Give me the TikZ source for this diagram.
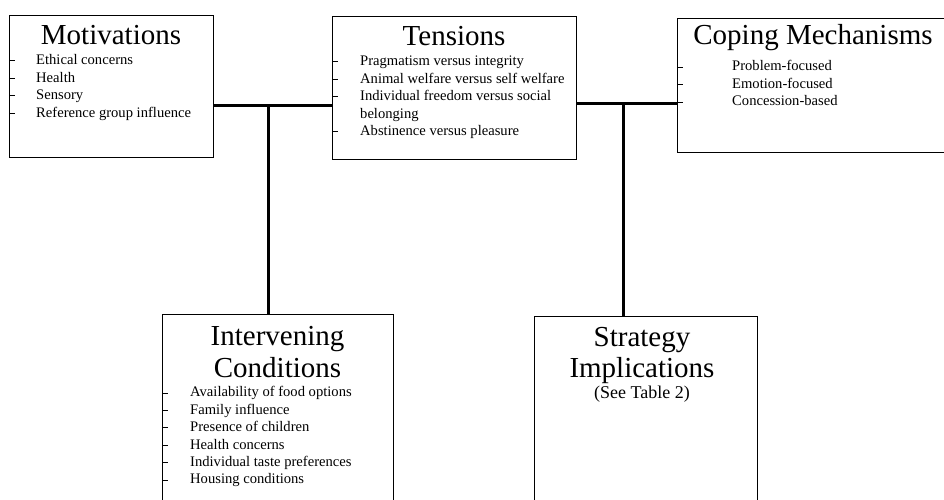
\documentclass[tikz,border=0pt]{standalone}
\usepackage{fontspec}
\setmainfont{Liberation Serif}
\tikzset{
  box/.style={draw,line width=1pt,rectangle,anchor=north west,inner sep=0pt},
  boxtitle/.style={inner sep=0pt,anchor=base,font=\fontsize{29}{34}\selectfont},
  subtitle/.style={inner sep=0pt,anchor=base,font=\fontsize{18}{21}\selectfont},
  item/.style={inner sep=0pt,anchor=base west,font=\fontsize{14.6}{17.4}\selectfont},
  conn/.style={line width=3pt},
  tick/.style={line width=0.8pt}
}
\begin{document}
\begin{tikzpicture}[x=1pt,y=-1pt]
	\useasboundingbox (0,0) rectangle (944,499);
	\clip (0,0) rectangle (944,499);
	% boxes
	\node[box,minimum width=204pt,minimum height=142pt] (mot) at (9,15) {};
	\node[box,minimum width=244pt,minimum height=143pt] (ten) at (332,16) {};
	\node[box,minimum width=272pt,minimum height=134pt] (cop) at (677,18) {};
	\node[box,minimum width=231pt,minimum height=196pt] (int) at (162,314) {};
	\node[box,minimum width=223pt,minimum height=194pt] (str) at (534,316) {};
	% titles
	\node[boxtitle] (motT) at (111,44) {Motivations};
	\node[boxtitle] (tenT) at (454,45.5) {Tensions};
	\node[boxtitle] (copT) at (813,44) {Coping Mechanisms};
	\node[boxtitle] (intT1) at (277.5,345) {Intervening};
	\node[boxtitle] (intT2) at (277.5,377) {Conditions};
	\node[boxtitle] (strT1) at (642,346) {Strategy};
	\node[boxtitle] (strT2) at (642,377) {Implications};
	\node[subtitle] (strT3) at (642,398) {(See Table 2)};
	% items
	\foreach \t [count=\i] in {Ethical concerns,Health,Sensory,Reference group influence}{
		\node[item] (mot\i) at (36,{47+17.5*\i}) {\t};
		\draw[tick] (mot.west |- mot\i.base) ++(0,-3.8) -- ++(6,0);
	}
	\node[item] (ten1) at (360,65.5) {Pragmatism versus integrity};
	\node[item] (ten2) at (360,83) {Animal welfare versus self welfare};
	\node[item] (ten3) at (360,100.5) {Individual freedom versus social};
	\node[item] (ten4) at (360,118) {belonging};
	\node[item] (ten5) at (360,135) {Abstinence versus pleasure};
	\foreach \i in {1,2,3,5}
	\draw[tick] (ten.west |- ten\i.base) ++(0,-3.8) -- ++(6,0);
	\foreach \t [count=\i] in {Problem-focused,Emotion-focused,Concession-based}{
		\node[item] (cop\i) at (732,{53.5+17.4*\i}) {\t};
		\draw[tick] (cop.west |- cop\i.base) ++(0,-3.8) -- ++(6,0);
	}
	\foreach \t [count=\i] in {Availability of food options,Family influence,Presence of children,Health concerns,Individual taste preferences,Housing conditions}{
		\node[item] (int\i) at (190,{379.4+17.4*\i}) {\t};
		\draw[tick] (int.west |- int\i.base) ++(0,-3.8) -- ++(6,0);
	}
	% connectors
	\coordinate (jl) at (268,105.5);
	\coordinate (jr) at (623,103.5);
	\draw[conn] (mot.east |- jl) -- (ten.west |- jl);
	\draw[conn] (jl) -- (int.north -| jl);
	\draw[conn] (ten.east |- jr) -- (cop.west |- jr);
	\draw[conn] (jr) -- (str.north -| jr);
\end{tikzpicture}
\end{document}
